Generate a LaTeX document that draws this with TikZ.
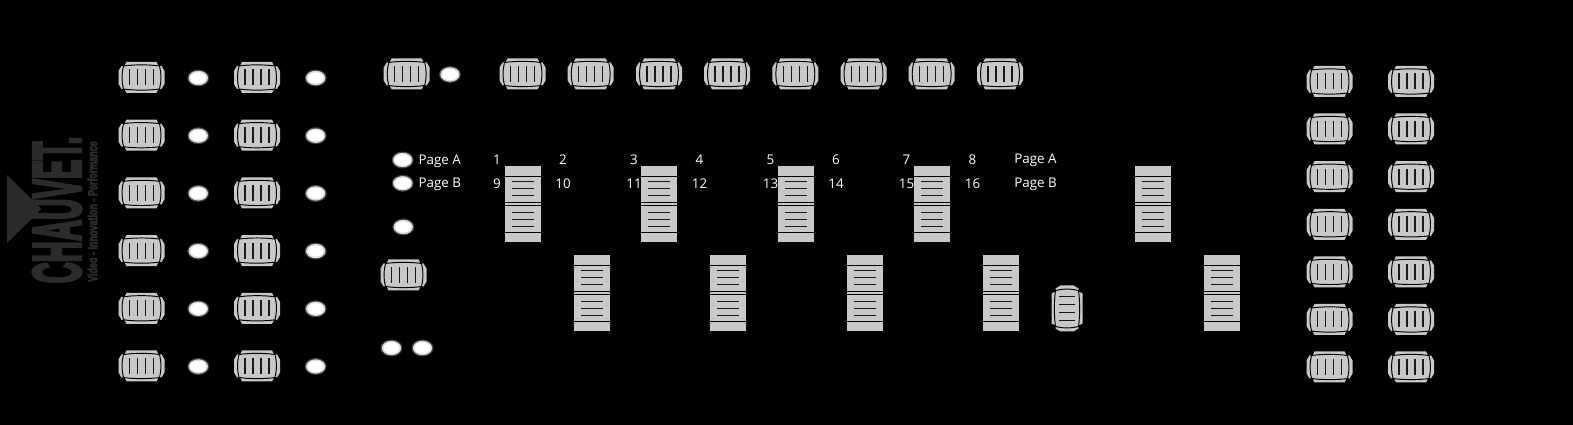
\documentclass[tikz,border=0pt]{standalone}
\usepackage{fontspec}
\setmainfont{Open Sans}
\newfontfamily\logofont[BoldFeatures={FakeBold=5}]{Liberation Sans}
\usepackage{graphicx}
\usetikzlibrary{positioning}

\definecolor{panelgray}{HTML}{C8C8C8}
\definecolor{logogray}{HTML}{2B2B2B}

\tikzset{
	panellabel/.style={text=white, font=\fontsize{7.6}{9}\selectfont, inner sep=0pt},
	ledlamp/.pic={
		\fill[gray!50!black] (0,0) ellipse (11 and 8.5);
		\fill[gray!30] (0,0) ellipse (9.7 and 7.2);
		\fill[white] (0,0) ellipse (8 and 5.7);
	},
	knobline/.style={draw=black, line width=0.55pt},
	knobthin/.style={draw=black, line width=0.25pt},
	knobgrip/.style={draw=black!90, line width=0.6pt},
	knobpic/.pic={
		\fill[panelgray] (-15,-15.5) -- (15,-15.5) -- (17,-11.5) -- (20,-11.5) -- (23,-6.5) -- (23,6.5) -- (20,11.5) -- (17,11.5) -- (15,15.5) -- (-15,15.5) -- (-17,11.5) -- (-20,11.5) -- (-23,6.5) -- (-23,-6.5) -- (-20,-11.5) -- (-17,-11.5) -- cycle;
		\draw[knobline] (-18,-11.5) .. controls (-8,-13) and (8,-13) .. (18,-11.5);
		\draw[knobline] (-18,11.5) .. controls (-8,13) and (8,13) .. (18,11.5);
		\draw[knobline] (-18,-11.5) .. controls (-20,-4) and (-20,4) .. (-18,11.5);
		\draw[knobline] (18,-11.5) .. controls (20,-4) and (20,4) .. (18,11.5);
		\draw[knobthin] (-18,-11.5) -- (-22,-15) (18,-11.5) -- (22,-15) (-18,11.5) -- (-22,15) (18,11.5) -- (22,15);
		\foreach \gx in {-12,-4,4,12}
			\draw[knobgrip] (\gx,-8) -- (\gx,8);
	},
	faderpic/.pic={
		\fill[panelgray] (-18,-38) rectangle (18,38);
		\draw[knobline] (-18,-28) -- (18,-28) (-18,-1.5) -- (18,-1.5) (-18,1.5) -- (18,1.5) (-18,28) -- (18,28);
		\foreach \sy in {-22.5,-15.5,-8.5,8.5,15.5,22.5}
			\draw[knobgrip] (-11,\sy) -- (11,\sy);
	}
}

\begin{document}
\begin{tikzpicture}[x=0.02cm, y=-0.02cm]
	\fill[black] (0,0) rectangle (1573,425);
	\useasboundingbox (0,0) rectangle (1573,425);

	% logo
	\fill[logogray] (7,175) -- (7,243) -- (41.5,209) -- cycle;
	\node (logo) [rotate=90, inner sep=0pt, text=logogray] at (57,210) {\resizebox{83.6pt}{27pt}{\logofont\bfseries CHAUVET.}};
	\node (slogan) [rotate=90, inner sep=0pt, text=logogray] at (92.5,211.5) {\resizebox{80pt}{5.5pt}{\logofont\bfseries Video - Innovation - Performance}};

	% left block
	\foreach \ky in {77.5,135.2,192.9,250.6,308.3,366} {
		\pic at (141.5,\ky) {knobpic};
		\pic at (257,\ky) {knobpic};
		\pic at (198.3,\ky+0.5) {ledlamp};
		\pic at (315.7,\ky+0.5) {ledlamp};
	}

	% top row
	\pic at (406.7,74) {knobpic};
	\pic at (450,74.5) {ledlamp};
	\foreach \kx in {522.5,590.7,659,727,795.3,863.5,931.7,1000}
		\pic at (\kx,74) {knobpic};

	% page buttons
	\pic at (402.7,160) {ledlamp};
	\pic at (402.7,183.3) {ledlamp};
	\pic at (403.3,227) {ledlamp};
	\node (pagea) [panellabel] at (439.8,161) {Page A};
	\node (pageb) [panellabel] at (439.8,184.5) {Page B};
	\node (pagec) [panellabel] at (1035.5,160) {Page A};
	\node (paged) [panellabel] at (1035.5,184) {Page B};

	% faders
	\foreach \fx in {523,659,795.5,932,1153.3}
		\pic at (\fx,204) {faderpic};
	\foreach \fx in {592,728.3,865,1001,1222}
		\pic at (\fx,293) {faderpic};
	\pic at (1067,308.5) [rotate=90] {knobpic};

	% channel numbers
	\foreach \nx/\na/\nb in {497/1/9,563/2/10,634/3/11,699.5/4/12,770.5/5/13,836/6/14,906.5/7/15,972.5/8/16} {
		\node (top\na) [panellabel] at (\nx,159.5) {\na};
		\node (bot\nb) [panellabel] at (\nx,183.5) {\nb};
	}

	% lower left
	\pic at (403.5,275) {knobpic};
	\pic at (391.5,348) {ledlamp};
	\pic at (422.5,348) {ledlamp};

	% right block
	\foreach \ky in {81.5,129,176.7,224.3,271.9,319.5,367} {
		\pic at (1329.5,\ky) {knobpic};
		\pic at (1411,\ky) {knobpic};
	}
\end{tikzpicture}
\end{document}
